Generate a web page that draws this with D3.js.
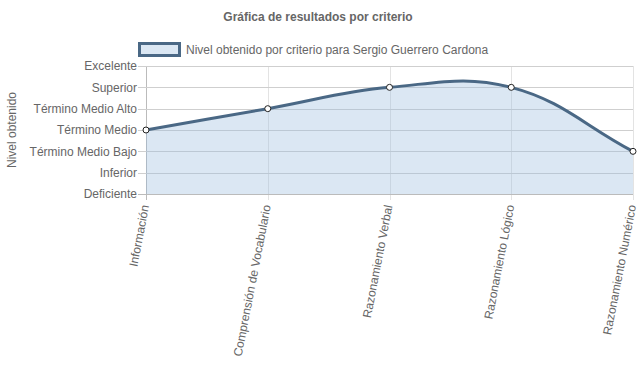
<!DOCTYPE html>
<html>
<head>
<meta charset="utf-8">
<script src="https://cdn.jsdelivr.net/npm/d3@7"></script>
<style>
    body { margin: 0; background: #fff; }
    svg { font-family: "Liberation Sans", Arial, Helvetica, sans-serif; }
</style>
</head>
<body>
<div id="chart"></div>
<script>
// Data
const levels = ['Deficiente', 'Inferior', 'Término Medio Bajo', 'Término Medio', 'Término Medio Alto', 'Superior', 'Excelente'];
const criteria = ['Información', 'Comprensión de Vocabulario', 'Razonamiento Verbal', 'Razonamiento Lógico', 'Razonamiento Numérico'];
const values = [3, 4, 5, 5, 2];
const seriesName = 'Nivel obtenido por criterio para Sergio Guerrero Cardona';

const width = 637, height = 389;
const margin = { top: 66, right: 4, bottom: 195, left: 146 };
const lineColor = '#4a6885';
const fillColor = 'rgba(151,187,221,0.35)';

const svg = d3.select('#chart').append('svg')
    .attr('width', width)
    .attr('height', height);

const x = d3.scalePoint()
    .domain(criteria)
    .range([margin.left, width - margin.right]);

const y = d3.scaleLinear()
    .domain([0, levels.length - 1])
    .range([height - margin.bottom, margin.top]);

// Title
svg.append('text')
    .attr('x', 318)
    .attr('y', 21)
    .attr('text-anchor', 'middle')
    .style('font-size', '12px')
    .style('font-weight', 'bold')
    .style('fill', '#666')
    .text('Gráfica de resultados por criterio');

// Legend
svg.append('rect')
    .attr('x', 139.5)
    .attr('y', 43.5)
    .attr('width', 40)
    .attr('height', 12)
    .style('fill', fillColor)
    .style('stroke', lineColor)
    .style('stroke-width', 3);

svg.append('text')
    .attr('x', 186)
    .attr('y', 50)
    .attr('dy', '0.35em')
    .style('font-size', '12px')
    .style('fill', '#666')
    .text(seriesName);

// Vertical grid
svg.append('g')
    .selectAll('line')
    .data(criteria)
    .enter()
    .append('line')
    .attr('x1', d => Math.round(x(d)) + 0.5)
    .attr('x2', d => Math.round(x(d)) + 0.5)
    .attr('y1', y(levels.length - 1))
    .attr('y2', y(0) + 6)
    .style('stroke', (d, i) => i === 0 ? '#bbb' : '#e3e3e3');

// Horizontal grid + y ticks
svg.append('g')
    .selectAll('line')
    .data(d3.range(levels.length))
    .enter()
    .append('line')
    .attr('x1', margin.left - 8)
    .attr('x2', width - margin.right)
    .attr('y1', d => Math.round(y(d)) + 0.5)
    .attr('y2', d => Math.round(y(d)) + 0.5)
    .style('stroke', d => d === 0 ? '#bbb' : '#cfcfcf');

// Y axis labels via axis generator
const yAxis = svg.append('g')
    .attr('transform', `translate(${margin.left - 9},0)`)
    .call(d3.axisLeft(y)
        .tickValues(d3.range(levels.length))
        .tickSize(0)
        .tickPadding(0)
        .tickFormat(d => levels[d]));
yAxis.select('.domain').remove();
yAxis.selectAll('text')
    .style('font-size', '12px')
    .style('font-family', '"Liberation Sans", Arial, sans-serif')
    .style('fill', '#666');

// Y title
svg.append('text')
    .attr('transform', `translate(16,${(y(0) + y(levels.length - 1)) / 2}) rotate(-90)`)
    .attr('text-anchor', 'middle')
    .style('font-size', '12px')
    .style('fill', '#666')
    .text('Nivel obtenido');

// X labels (rotated)
svg.append('g')
    .selectAll('text')
    .data(criteria)
    .enter()
    .append('text')
    .attr('transform', d => `translate(${x(d) - 1},${y(0) + 11}) rotate(-79)`)
    .attr('text-anchor', 'end')
    .attr('dy', '0.35em')
    .style('font-size', '12px')
    .style('fill', '#666')
    .text(d => d);

// Chart.js-style spline (tension 0.4)
const pts = criteria.map((c, i) => ({ x: x(c), y: y(values[i]) }));
const t = 0.4;
const areaTop = y(levels.length - 1), areaBottom = y(0);
const clampY = v => Math.max(areaTop, Math.min(areaBottom, v));
pts.forEach((p, i) => {
    const prev = pts[i - 1] || p;
    const next = pts[i + 1] || p;
    const d01 = Math.hypot(p.x - prev.x, p.y - prev.y);
    const d12 = Math.hypot(next.x - p.x, next.y - p.y);
    let s01 = d01 / (d01 + d12), s12 = d12 / (d01 + d12);
    if (isNaN(s01)) s01 = 0;
    if (isNaN(s12)) s12 = 0;
    const fa = t * s01, fb = t * s12;
    p.cpPrev = { x: p.x - fa * (next.x - prev.x), y: clampY(p.y - fa * (next.y - prev.y)) };
    p.cpNext = { x: p.x + fb * (next.x - prev.x), y: clampY(p.y + fb * (next.y - prev.y)) };
});

function splinePath(path) {
    path.moveTo(pts[0].x, pts[0].y);
    for (let i = 1; i < pts.length; i++) {
        const a = pts[i - 1], b = pts[i];
        path.bezierCurveTo(a.cpNext.x, a.cpNext.y, b.cpPrev.x, b.cpPrev.y, b.x, b.y);
    }
    return path;
}

const area = splinePath(d3.path());
area.lineTo(pts[pts.length - 1].x, areaBottom);
area.lineTo(pts[0].x, areaBottom);
area.closePath();

svg.append('path')
    .attr('d', area.toString())
    .style('fill', fillColor);

svg.append('path')
    .attr('d', splinePath(d3.path()).toString())
    .style('fill', 'none')
    .style('stroke', lineColor)
    .style('stroke-width', 3);

svg.append('g')
    .selectAll('circle')
    .data(pts)
    .enter()
    .append('circle')
    .attr('cx', d => d.x)
    .attr('cy', d => d.y)
    .attr('r', 3)
    .style('fill', '#fff')
    .style('stroke', '#222')
    .style('stroke-width', 1);
</script>
</body>
</html>
